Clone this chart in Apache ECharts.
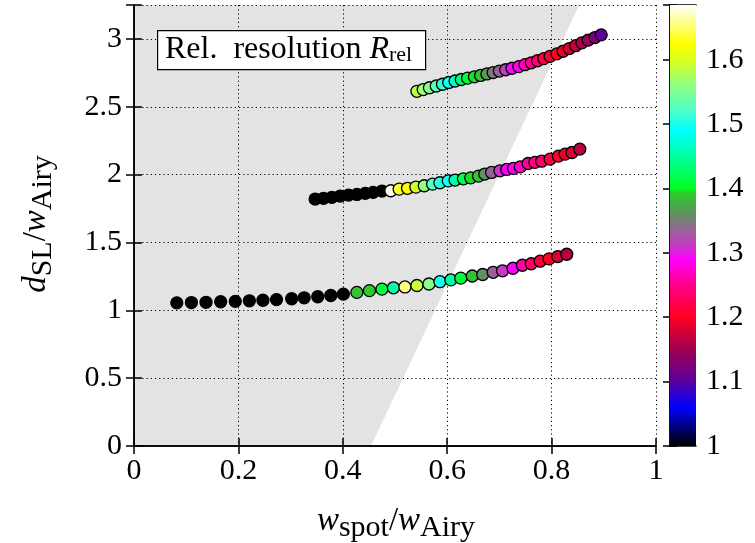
<!DOCTYPE html>
<html><head><meta charset="utf-8">
<script src="https://cdn.jsdelivr.net/npm/echarts@6/dist/echarts.min.js"></script>
<style>html,body{margin:0;padding:0;background:#fff}#c{width:755px;height:543px}</style>
</head><body><div id="c"></div>
<script>
// ---- tick labels ----
const xTicks = [0, 0.2, 0.4, 0.6, 0.8, 1];
const yTicks = [0, 0.5, 1, 1.5, 2, 2.5, 3];
const cbTicks = [1, 1.1, 1.2, 1.3, 1.4, 1.5, 1.6];

// ---- series 1 (bottom) ----
const s1X = [0.082,0.110,0.138,0.166,0.194,0.221,0.247,0.273,0.302,0.326,0.352,0.377,0.401,
             0.427,0.451,0.475,0.497,0.519,0.542,0.565,0.586,0.607,0.626,0.648,0.668,0.688,0.706,0.726,0.744,0.761,0.778,0.795,0.812,0.829];
const s1Y = [1.055,1.057,1.059,1.063,1.066,1.070,1.074,1.079,1.085,1.092,1.100,1.109,1.119,
             1.132,1.145,1.156,1.166,1.172,1.183,1.194,1.211,1.224,1.237,1.253,1.264,1.280,1.291,1.310,1.332,1.343,1.362,1.379,1.396,1.413];
const s1R = [1,1,1,1,1,1,1,1,1,1,1,1,1,
             1.385,1.39,1.41,1.45,1.655,1.59,1.555,1.50,1.45,1.41,1.385,1.36,1.335,1.31,1.29,1.26,1.23,1.21,1.20,1.18,1.16];

// ---- series 2 (middle) ----
const s2X = [0.347,0.363,0.379,0.395,0.411,0.427,0.443,0.458,0.475,
             0.492,0.508,0.524,0.540,0.556,0.572,0.586,0.602,0.615,0.631,0.645,0.660,0.672,0.685,0.701,0.714,0.727,0.740,0.755,0.768,0.781,0.797,0.813,0.826,0.839,0.854];
const s2Y = [1.820,1.825,1.832,1.842,1.849,1.854,1.862,1.869,1.879,
             1.881,1.893,1.899,1.908,1.918,1.930,1.940,1.954,1.960,1.969,1.976,1.989,2.004,2.016,2.028,2.038,2.046,2.057,2.082,2.090,2.099,2.114,2.136,2.151,2.163,2.188];
const s2R = [1,1,1,1,1,1,1,1,1,
             1.68,1.635,1.625,1.595,1.56,1.525,1.505,1.495,1.455,1.42,1.395,1.385,1.36,1.335,1.31,1.29,1.285,1.27,1.255,1.245,1.235,1.215,1.205,1.19,1.18,1.165];

// ---- series 3 (top) ----
const s3X = [0.542,0.554,0.566,0.579,0.591,0.603,0.615,0.627,0.639,0.652,0.664,0.676,0.688,0.700,0.712,
             0.724,0.737,0.749,0.761,0.773,0.785,0.797,0.810,0.822,0.834,0.846,0.858,0.870,0.883,0.895];
const s3Y = [2.614,2.627,2.640,2.653,2.666,2.679,2.690,2.701,2.711,2.721,2.731,2.742,2.752,2.763,2.773,
             2.784,2.796,2.810,2.824,2.839,2.855,2.872,2.890,2.909,2.929,2.950,2.971,2.991,3.010,3.030];
const s3R = [1.585,1.565,1.555,1.53,1.51,1.50,1.47,1.43,1.41,1.395,1.385,1.365,1.345,1.335,1.315,
             1.295,1.285,1.265,1.25,1.235,1.22,1.21,1.20,1.19,1.18,1.17,1.16,1.145,1.125,1.105];

// ---- shaded region (polygon vertices in data coords) ----
const shadeX = [0, 0.454, 0.853, 0];
const shadeY = [0, 0, 3.25, 3.25];

// ---- colour scale ----
const cbMin = 1, cbMax = 1.685;
const cmapV = [1.000,1.060,1.100,1.150,1.200,1.250,1.290,1.310,1.336,1.363,1.394,1.400,1.445,1.490,1.522,1.564,1.600,1.625,1.685];
const cmapC = ['#000000','#0000ff','#5a00a0','#a00050','#ff0020','#ff008c','#ff00ff','#c838c8','#966496','#5a965a','#28d228','#00ff20','#00ff96','#00ffff','#50ffc8','#96ff78','#dcff1e','#ffff00','#ffffff'];

function hex2rgb(h){return [parseInt(h.substr(1,2),16),parseInt(h.substr(3,2),16),parseInt(h.substr(5,2),16)];}
function cmap(v){
  if (v <= cmapV[0]) return cmapC[0];
  for (let i=1;i<cmapV.length;i++){
    if (v <= cmapV[i]){
      const t=(v-cmapV[i-1])/(cmapV[i]-cmapV[i-1]);
      const a=hex2rgb(cmapC[i-1]), b=hex2rgb(cmapC[i]);
      return 'rgb('+a.map((c,k)=>Math.round(c+(b[k]-c)*t)).join(',')+')';
    }
  }
  return cmapC[cmapC.length-1];
}
const sampled = [];
for (let k=0;k<=137;k++) sampled.push(cmap(cbMin+(cbMax-cbMin)*k/137));
const gradStops = cmapV.map((v,i)=>({offset:(v-cbMin)/(cbMax-cbMin), color:cmapC[i]}));

const FF = 'Liberation Serif';
const FS = 30;
const near = (v, arr) => arr.some(t => Math.abs(t - v) < 1e-6);
const lineBlack = {show:true, lineStyle:{color:'#000', width:1.5}};
const tickIn = {show:true, inside:true, length:8, lineStyle:{color:'#000', width:1.5}};
const lab = (arr, margin) => ({show:true, margin:margin, color:'#000', fontFamily:FF, fontSize:FS,
  formatter: v => near(v, arr) ? String(+v.toFixed(2)) : ''});
const dotted = {show:true, lineStyle:{color:'#000', width:1, type:[1.2,3]}};

function mk(xs, ys, rs){ return xs.map((x,i)=>[x, ys[i], rs[i]]); }

const chart = echarts.init(document.getElementById('c'), null, {renderer:'canvas'});
const sc = (data) => ({type:'scatter', xAxisIndex:0, yAxisIndex:0, data:data, symbol:'circle', symbolSize:12,
  itemStyle:{borderColor:'#000', borderWidth:1.3, opacity:1}, emphasis:{disabled:true}, animation:false, z:5});

const titleRich = {n:{fontFamily:FF, fontSize:33, fill:'#000'}, i:{fontFamily:FF, fontSize:33, fontStyle:'italic', fill:'#000'},
                   s:{fontFamily:FF, fontSize:30, fill:'#000', padding:[14,0,0,0]}};

chart.setOption({
  animation:false,
  backgroundColor:'#fff',
  grid:[{left:134, right:99, top:5, bottom:97}, {left:670, width:26, top:5, bottom:97}],
  xAxis:[
    {gridIndex:0, type:'value', min:0, max:1, interval:0.2, position:'bottom', axisLine:lineBlack, axisTick:tickIn, axisLabel:lab(xTicks,10), splitLine:dotted},
    {gridIndex:0, type:'value', min:0, max:1, interval:0.2, position:'top', axisLine:lineBlack, axisTick:tickIn, axisLabel:{show:false}, splitLine:{show:false}},
    {gridIndex:1, type:'value', min:0, max:1, position:'bottom', axisLine:lineBlack, axisTick:{show:false}, axisLabel:{show:false}, splitLine:{show:false}},
    {gridIndex:1, type:'value', min:0, max:1, position:'top', axisLine:lineBlack, axisTick:{show:false}, axisLabel:{show:false}, splitLine:{show:false}}
  ],
  yAxis:[
    {gridIndex:0, type:'value', min:0, max:3.25, interval:0.5, position:'left', axisLine:lineBlack, axisTick:tickIn, axisLabel:lab(yTicks,12), splitLine:dotted},
    {gridIndex:0, type:'value', min:0, max:3.25, interval:0.5, position:'right', axisLine:lineBlack, axisTick:tickIn, axisLabel:{show:false}, splitLine:{show:false}},
    {gridIndex:1, type:'value', min:cbMin, max:cbMax, interval:0.1, position:'left', axisLine:lineBlack, axisTick:{show:true, inside:true, length:7, lineStyle:{color:'#000', width:1.5}}, axisLabel:{show:false}, splitLine:{show:false}},
    {gridIndex:1, type:'value', min:cbMin, max:cbMax, interval:0.1, position:'right', axisLine:lineBlack, axisTick:{show:true, inside:true, length:7, lineStyle:{color:'#000', width:1.5}}, axisLabel:lab(cbTicks,10), splitLine:{show:false}}
  ],
  visualMap:{type:'continuous', show:false, min:cbMin, max:cbMax, dimension:2, seriesIndex:[2,3,4], inRange:{color:sampled}},
  series:[
    {type:'custom', xAxisIndex:0, yAxisIndex:0, data:[0], z:-1, silent:true,
      renderItem:(p, api) => ({type:'polygon', shape:{points:shadeX.map((x,i)=>api.coord([x, shadeY[i]]))}, style:{fill:'#e3e3e3'}})},
    {type:'custom', xAxisIndex:2, yAxisIndex:2, data:[0], silent:true,
      renderItem:(p, api) => {
        const a = api.coord([0, cbMin]), b = api.coord([1, cbMax]);
        return {type:'rect', shape:{x:a[0], y:b[1], width:b[0]-a[0], height:a[1]-b[1]},
          style:{fill:new echarts.graphic.LinearGradient(0,1,0,0,gradStops)}};
      }},
    sc(mk(s1X,s1Y,s1R)),
    sc(mk(s2X,s2Y,s2R)),
    sc(mk(s3X,s3Y,s3R))
  ],
  graphic:[
    {type:'rect', left:157, top:30, shape:{width:268, height:39}, style:{fill:'#fff', stroke:'#000', lineWidth:1.2}, z:10},
    {type:'text', x:165, y:50, z:11, style:{
      text:'{n|Rel.  resolution }{i|R}{s|rel}', verticalAlign:'middle',
      rich:{n:{fontFamily:FF, fontSize:32, fill:'#000'}, i:{fontFamily:FF, fontSize:32, fontStyle:'italic', fill:'#000'}, s:{fontFamily:FF, fontSize:22, fill:'#000', padding:[10,0,0,0]}}}},
    {type:'text', x:396, y:521, z:11, style:{
      text:'{i|w}{s|spot}{n|/}{i|w}{s|Airy}', align:'center', verticalAlign:'middle', rich:titleRich}},
    {type:'text', x:36, y:224, rotation:Math.PI/2, z:11, style:{
      text:'{i|d}{s|SL}{n|/}{i|w}{s|Airy}', align:'center', verticalAlign:'middle', rich:titleRich}}
  ]
});
</script></body></html>
